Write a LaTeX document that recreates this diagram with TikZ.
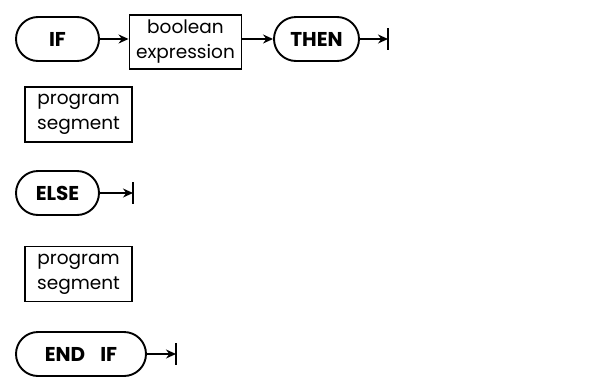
\documentclass[tikz,border=0pt]{standalone}
\usepackage{fontspec}
\setmainfont{Poppins}
\usetikzlibrary{arrows.meta, positioning, shapes.misc}
\tikzset{
    term/.style={rounded rectangle, draw=black, line width=1.9pt, minimum height=44pt, inner sep=1pt, font=\fontsize{20}{22}\selectfont\bfseries},
    segbox/.style={rectangle, draw=black, line width=1.9pt, align=center, inner sep=1pt, font=\fontsize{18.5}{25}\selectfont},
    arrow/.style={-{Stealth[length=10pt, width=9pt]}, line width=1.4pt, draw=black},
    stopbar/.style={line width=1.6pt, draw=black}
}
\begin{document}
\begin{tikzpicture}[x=1pt, y=-1pt]
    \useasboundingbox (0,0) rectangle (598,381);
    % first line
    \node[term, minimum width=85pt] (ifterm) at (57.5,39) {IF};
    \node[segbox, minimum width=112pt, minimum height=54pt] (boolexpr) at (185.5,42) {boolean\\expression};
    \node[term, minimum width=87pt] (thenterm) at (316.5,39) {THEN};
    \coordinate (thenstop) at (388,39);
    \draw[arrow] (ifterm.east) -- (ifterm.east -| boolexpr.west);
    \draw[arrow] (boolexpr.east |- thenterm.west) -- (thenterm.west);
    \draw[arrow] (thenterm.east) -- (thenstop);
    % body segments
    \node[segbox, minimum width=107pt, minimum height=55pt] (progone) at (78.5,114.5) {program\\segment};
    \node[term, minimum width=85pt] (elseterm) at (57.5,193) {ELSE};
    \coordinate (elsestop) at (133,193);
    \draw[arrow] (elseterm.east) -- (elsestop);
    \node[segbox, minimum width=107pt, minimum height=55pt] (progtwo) at (78.5,274) {program\\segment};
    \node[term, minimum width=132pt] (endterm) at (81,354) {END\hspace{15pt}IF};
    \coordinate (endstop) at (176,354);
    \draw[arrow] (endterm.east) -- (endstop);
    % stop bars
    \foreach \s in {thenstop, elsestop, endstop}
        \draw[stopbar] (\s) ++(0,-11) -- ++(0,22);
\end{tikzpicture}
\end{document}
